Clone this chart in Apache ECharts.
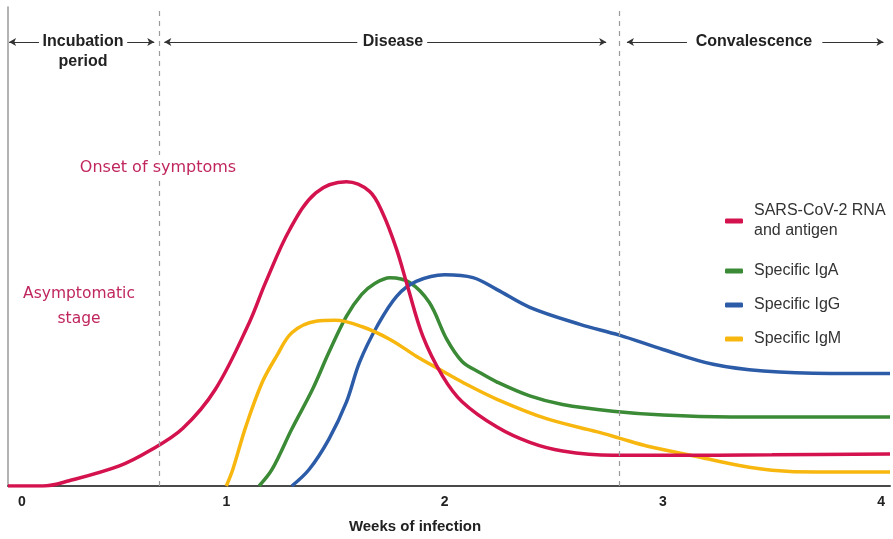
<!DOCTYPE html>
<html>
<head>
<meta charset="utf-8">
<script src="https://cdn.jsdelivr.net/npm/echarts@6/dist/echarts.min.js"></script>
<style>
html,body{margin:0;padding:0;background:#fff;}
#chart{width:893px;height:539px;}
</style>
</head>
<body>
<div id="chart"></div>
<script>
// ---- data (weeks of infection, relative level) ----
var rnaWeeks   = [0, 0.16, 0.28, 0.51, 0.65, 0.80, 0.95, 1.106, 1.18, 1.29, 1.41, 1.55, 1.656, 1.716, 1.78, 1.83, 1.90, 1.99, 2.08, 2.24, 2.39, 2.54, 2.77, 3.0, 3.5, 4.04];
var rnaValues  = [0, 0, 1.1, 4.2, 7.4, 12.0, 20.2, 34.2, 42.5, 53.5, 61.2, 63.5, 61.5, 57, 49.4, 41.7, 31.3, 23, 17.6, 12.3, 9.1, 7.3, 6.4, 6.4, 6.5, 6.7];

var igaWeeks   = [1.15, 1.21, 1.30, 1.395, 1.47, 1.55, 1.62, 1.68, 1.75, 1.84, 1.93, 2.01, 2.08, 2.16, 2.24, 2.39, 2.54, 2.77, 3.0, 3.31, 4.04];
var igaValues  = [0, 3.5, 11.9, 20.2, 27.9, 35.4, 40.0, 42.3, 43.5, 42.5, 38.3, 30.6, 26, 23.7, 21.7, 18.8, 17, 15.6, 14.8, 14.4, 14.4];

var iggWeeks   = [1.30, 1.38, 1.47, 1.55, 1.61, 1.69, 1.78, 1.87, 2.0, 2.13, 2.24, 2.39, 2.62, 2.80, 3.0, 3.23, 3.46, 3.77, 4.04];
var iggValues  = [0, 3.5, 9.8, 17.5, 25.8, 33.3, 39.6, 42.7, 44.1, 43.5, 41, 37.3, 33.75, 31.5, 28.5, 25.4, 24.0, 23.5, 23.5];

var igmWeeks   = [1.0, 1.03, 1.09, 1.165, 1.23, 1.30, 1.41, 1.50, 1.62, 1.75, 1.87, 1.99, 2.08, 2.24, 2.47, 2.70, 2.80, 2.93, 3.17, 3.35, 3.5, 3.7, 4.04];
var igmValues  = [0, 3.5, 12.5, 21.7, 27.1, 32, 34.4, 34.6, 33.3, 30.6, 27.1, 24, 21.7, 18.1, 14, 11.3, 10.0, 8.3, 6.0, 4.3, 3.3, 2.9, 2.9];

var seriesNames = ['SARS-CoV-2 RNA and antigen', 'Specific IgA', 'Specific IgG', 'Specific IgM'];
var xTickLabels = ['0', '1', '2', '3', '4'];
var phaseBoundaries = [0.693, 2.798];   // end of incubation, end of disease

function pairs(xs, ys){ return xs.map(function(x, i){ return [x, ys[i]]; }); }

var colors = ['#d3124e', '#3b8a36', '#2c5ca8', '#f7b70f'];
var arrowY = 92.7;
var arrowStyle = { color: '#333', width: 1, type: 'solid' };
function seg(a, b, arrowAtStart){
  return [
    { coord: [a, arrowY], symbol: arrowAtStart ? 'arrow' : 'none', lineStyle: arrowStyle },
    { coord: [b, arrowY], symbol: arrowAtStart ? 'none' : 'arrow', lineStyle: arrowStyle }
  ];
}

var chart = echarts.init(document.getElementById('chart'), null, { renderer: 'canvas' });

var lineBase = {
  type: 'line', smooth: 0.35, showSymbol: false, symbol: 'none',
  silent: true, animation: false, z: 3
};

var option = {
  animation: false,
  grid: { left: 8, right: 3, top: 7, bottom: 52 },
  xAxis: {
    type: 'value', min: 0, max: 4.04, interval: 1,
    axisLine: { show: true, lineStyle: { color: '#4a4a4a', width: 2 } },
    axisTick: { show: false },
    splitLine: { show: false },
    axisLabel: {
      margin: 9,
      fontFamily: 'Liberation Sans, Arial, sans-serif',
      fontSize: 14, fontWeight: 'bold', color: '#222',
      formatter: function(v){
        var i = Math.round(v);
        if (Math.abs(v - i) > 1e-6 || i < 0 || i >= xTickLabels.length) return '';
        return i === 0 ? '{z|' + xTickLabels[i] + '}' : xTickLabels[i];
      },
      rich: { z: { padding: [0, 0, 0, 28], fontFamily: 'Liberation Sans, Arial, sans-serif', fontSize: 14, fontWeight: 'bold', color: '#222' } }
    },
    name: 'Weeks of infection',
    nameLocation: 'middle',
    nameGap: 33,
    nameTextStyle: {
      fontFamily: 'Liberation Sans, Arial, sans-serif',
      fontSize: 15, fontWeight: 'bold', color: '#222',
      padding: [0, 68, 0, 0]
    }
  },
  yAxis: {
    type: 'value', min: 0, max: 100,
    axisLine: { show: true, lineStyle: { color: '#9a9a9a', width: 1.5 } },
    axisTick: { show: false },
    axisLabel: { show: false },
    splitLine: { show: false }
  },
  legend: {
    orient: 'vertical',
    left: 725, top: 191,
    padding: 0,
    itemGap: 6,
    itemWidth: 18, itemHeight: 5,
    icon: 'roundRect',
    selectedMode: false,
    textStyle: {
      fontFamily: 'Liberation Sans, Arial, sans-serif',
      fontSize: 16, color: '#333', lineHeight: 28,
      padding: [0, 0, 0, 6]
    },
    data: [
      { name: seriesNames[0], textStyle: { lineHeight: 20, padding: [20, 0, 0, 6] } },
      { name: seriesNames[1] },
      { name: seriesNames[2] },
      { name: seriesNames[3] }
    ],
    formatter: function(name){
      return name === seriesNames[0] ? 'SARS-CoV-2 RNA\nand antigen' : name;
    }
  },
  series: [
    Object.assign({}, lineBase, {
      name: seriesNames[0], color: colors[0],
      lineStyle: { width: 3.5, color: colors[0] },
      data: pairs(rnaWeeks, rnaValues),
      z: 4,
      markLine: {
        silent: true, animation: false,
        symbolSize: [7, 8],
        label: { show: false },
        emphasis: { disabled: true },
        data: [
          [{ xAxis: phaseBoundaries[0], yAxis: 0, symbol: 'none' }, { xAxis: phaseBoundaries[0], yAxis: 100, symbol: 'none' }],
          [{ xAxis: phaseBoundaries[1], yAxis: 0, symbol: 'none' }, { xAxis: phaseBoundaries[1], yAxis: 100, symbol: 'none' }]
        ],
        lineStyle: { color: '#9a9a9a', width: 1.2, type: [5, 5] }
      }
    }),
    Object.assign({}, lineBase, {
      name: seriesNames[1], color: colors[1],
      lineStyle: { width: 3.5, color: colors[1] },
      data: pairs(igaWeeks, igaValues)
    }),
    Object.assign({}, lineBase, {
      name: seriesNames[2], color: colors[2],
      lineStyle: { width: 3.5, color: colors[2] },
      data: pairs(iggWeeks, iggValues)
    }),
    Object.assign({}, lineBase, {
      name: seriesNames[3], color: colors[3],
      lineStyle: { width: 3.5, color: colors[3] },
      data: pairs(igmWeeks, igmValues),
      markLine: {
        silent: true, animation: false,
        symbolSize: [6, 7],
        label: { show: false },
        emphasis: { disabled: true },
        data: [
          seg(0.005, 0.142, true), seg(0.546, 0.670, false),
          seg(0.716, 1.60, true), seg(1.92, 2.74, false),
          seg(2.835, 3.11, true), seg(3.73, 4.01, false)
        ]
      }
    })
  ],
  graphic: [
    { type: 'text', z: 100, x: 83, y: 32, style: { text: 'Incubation\nperiod', textAlign: 'center', textVerticalAlign: 'top', lineHeight: 20, font: 'bold 16px "Liberation Sans", Arial, sans-serif', fill: '#222' } },
    { type: 'text', z: 100, x: 393, y: 32, style: { text: 'Disease', textAlign: 'center', textVerticalAlign: 'top', lineHeight: 20, font: 'bold 16px "Liberation Sans", Arial, sans-serif', fill: '#222' } },
    { type: 'text', z: 100, x: 754, y: 32, style: { text: 'Convalescence', textAlign: 'center', textVerticalAlign: 'top', lineHeight: 20, font: 'bold 16px "Liberation Sans", Arial, sans-serif', fill: '#222' } },
    { type: 'text', z: 100, x: 158, y: 155, style: { text: 'Onset of symptoms', textAlign: 'center', textVerticalAlign: 'top', lineHeight: 22, font: '16px "DejaVu Sans", Verdana, sans-serif', fill: '#c0265e', backgroundColor: '#ffffff', padding: [2, 2, 2, 2] } },
    { type: 'text', z: 100, x: 79, y: 281, style: { text: 'Asymptomatic\nstage', textAlign: 'center', textVerticalAlign: 'top', lineHeight: 25, font: '15.5px "DejaVu Sans", Verdana, sans-serif', fill: '#c0265e' } }
  ]
};
chart.setOption(option);
</script>
</body>
</html>
